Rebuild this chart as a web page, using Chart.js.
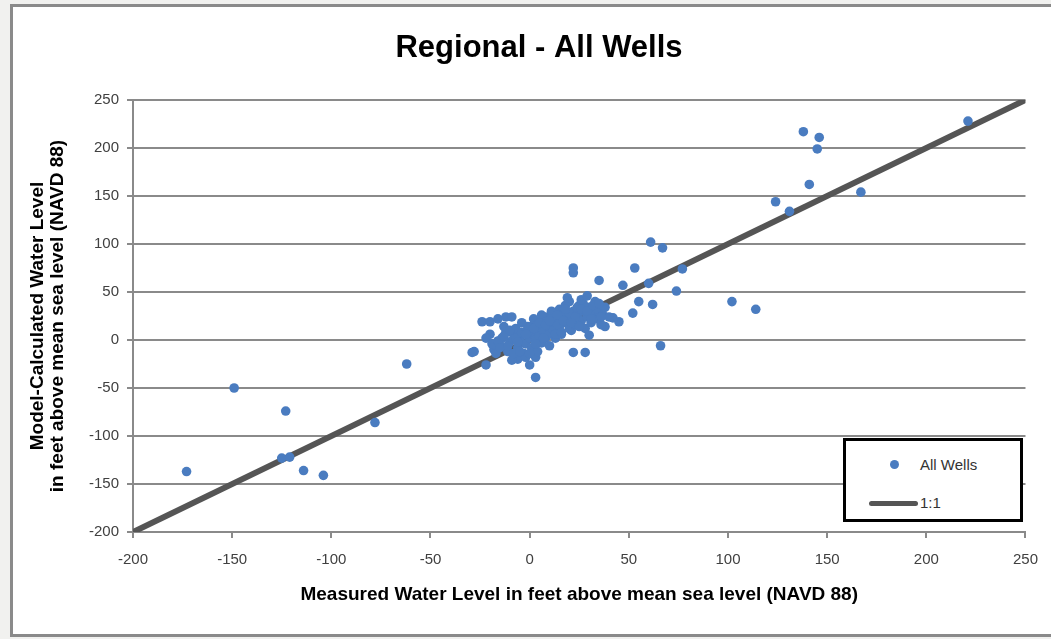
<!DOCTYPE html>
<html>
<head>
<meta charset="utf-8">
<script src="https://cdn.jsdelivr.net/npm/chart.js@4"></script>
<style>
    html, body { margin: 0; padding: 0; background: #f1f1ef; overflow: hidden; }
    #frame {
        position: absolute; left: 10px; top: 4px; width: 1080px; height: 627px;
        border: 3px solid #8a8a8a; background: #fff;
    }
    #wrap { position: absolute; left: 0; top: 0; width: 1051px; height: 639px; }
    #legend {
        position: absolute; left: 843px; top: 438px; width: 174px; height: 78px;
        border: 3px solid #000; background: #fff;
        font-family: 'Liberation Sans', Arial, sans-serif; font-size: 15px; color: #333;
    }
    .row { position: absolute; left: 0; height: 20px; line-height: 20px; }
    .sym { position: absolute; }
</style>
</head>
<body>
<div id="frame"></div>
<div id="wrap"><canvas id="chart" width="1051" height="639"></canvas></div>
<div id="legend"></div>
<script>
// Nilai terukur (x) dan hasil model (y)
const measured = [
    221, 138, 146, 145, 167, 141, 124, 131, 102, 114,
    61, 67, 22, 22, 53, 35, 47, 60, 77, 74, 55, 62, 66, 22, 28, 30, 38, 45, 52, 21, 42,
    -62, -149, -123, -78, -125, -121, -173, -114, -104,
    -24, -20, -16, -12, -9, -28, -22, -29, 3, 0, 3,
    -18, -15, -14, -12, -10, -8, -7, -6, -5, -4, -3, -2, -1, 0, 1, 1, 2, 2, 3, 4, 4, 5, 5, 6, 6,
    7, 8, 8, 9, 10, 10, 11, 12, 12, 13, 14, 15, 15, 16, 17, 18, 18, 19, 20, 20, 21, 22, 23, 24,
    25, 26, 27, 28, 29, 30, 31, 32, 33, 34, 35, 36, 37, 38, 40, -3, -6, -9, -2, -17, -11, -13,
    -20, -22, -19, -8, 2, 6, 9, 14, 17, 24, 27, 32, 11, 4, -1, 19, 26, 29,
    -16, -13, -10, -7, -4, -1, 2, 5, 8, 11, 14, 17, 20, 23, 26, 29, 32, 35,
    -15, -11, -6, -2, 3, 7, 13, 16, 21, 25, 31, 36, 10, 0, -5, 18
];
const modeled = [
    228, 217, 211, 199, 154, 162, 144, 134, 40, 32,
    102, 96, 75, 70, 75, 62, 57, 59, 74, 51, 40, 37, -6, -13, -13, 5, 14, 19, 28, 10, 23,
    -25, -50, -74, -86, -123, -122, -137, -136, -141,
    19, 19, 22, 24, 24, -12, -26, -13, -39, -26, -18,
    -10, -5, 2, 8, -2, 5, 12, -8, 0, 18, 6, -4, 10, 2, 14, -8, 6, 22, 0, 10, -12, 16, 4, -3, 20,
    10, 2, 24, 14, 6, -6, 18, 28, 10, 2, 22, 14, 32, 6, 24, 18, 36, 28, 12, 40, 22, 30, 16, 26,
    36, 20, 30, 12, 24, 34, 18, 28, 40, 22, 30, 16, 26, 34, 24, -14, -20, -21, -18, -14, -12, 14,
    6, 2, -4, -14, 12, 26, 20, 16, 30, 34, 38, 22, 30, 16, 8, 44, 42, 46,
    -1, 4, 10, 2, 8, 14, 12, 18, 16, 22, 26, 20, 28, 24, 32, 30, 36, 38,
    -8, -6, -2, 6, -4, 2, 6, 8, 18, 14, 22, 24, 20, -14, -12, 32
];
const oneToOne = [-200, 250];
const tickStep = 50;
const wells = measured.map((x, i) => ({ x: x, y: modeled[i] }));

const font = "'Liberation Sans', Arial, sans-serif";

const ctx = document.getElementById('chart').getContext('2d');
const chart = new Chart(ctx, {
    type: 'scatter',
    data: {
        datasets: [{
            label: 'All Wells',
            data: wells,
            backgroundColor: '#4a7cc0',
            borderColor: '#4a7cc0',
            borderWidth: 0,
            pointRadius: 4.8
        }, {
            label: '1:1',
            type: 'line',
            data: oneToOne.map(v => ({ x: v, y: v })),
            borderColor: '#555555',
            borderWidth: 6,
            pointRadius: 0,
            fill: false
        }]
    },
    options: {
        responsive: false,
        animation: false,
        layout: { padding: { left: 51, right: 24, top: 0, bottom: 30 } },
        plugins: {
            legend: { display: false },
            tooltip: { enabled: false },
            title: {
                display: true,
                text: 'Regional - All Wells',
                color: '#000',
                font: { family: font, size: 31, weight: 'bold' },
                padding: { top: 30, bottom: 32.8 }
            }
        },
        scales: {
            x: {
                type: 'linear',
                min: -200, max: 250,
                afterFit: s => { s.height = 77; },
                ticks: { stepSize: tickStep, color: '#404040', font: { family: font, size: 15 }, padding: 13 },
                grid: { drawOnChartArea: false, color: '#8a8a8a', lineWidth: 2, tickLength: 6 },
                border: { color: '#8a8a8a', width: 2 },
                title: {
                    display: true,
                    text: 'Measured Water Level in feet above mean sea level (NAVD 88)',
                    color: '#000',
                    font: { family: font, size: 19, weight: 'bold' },
                    padding: { top: 4, bottom: 3 }
                }
            },
            y: {
                min: -200, max: 250,
                afterFit: s => { s.width = 82; },
                ticks: { stepSize: tickStep, color: '#404040', font: { family: font, size: 15 }, padding: 8 },
                grid: { color: '#8a8a8a', lineWidth: 2, tickLength: 6 },
                border: { color: '#8a8a8a', width: 2 },
                title: {
                    display: true,
                    text: ['Model-Calculated Water Level', 'in feet above mean sea level (NAVD 88)'],
                    color: '#000',
                    font: { family: font, size: 19, weight: 'bold', lineHeight: 1.05 },
                    padding: { top: -23, bottom: 0 }
                }
            }
        }
    }
});

// Legenda HTML di dalam area grafik
const legendDiv = document.getElementById('legend');
legendDiv.innerHTML = chart.data.datasets.map((d, i) => {
    const sym = d.type === 'line'
        ? `<span class="sym" style="left:23px;top:8px;width:49px;height:5px;border-radius:3px;background:${d.borderColor}"></span>`
        : `<span class="sym" style="left:44px;top:5px;width:9px;height:9px;border-radius:50%;background:${d.backgroundColor}"></span>`;
    return `<div class="row" style="top:${i === 0 ? 14 : 52}px;width:100%">${sym}<span style="position:absolute;left:74px">${d.label}</span></div>`;
}).join('');
</script>
</body>
</html>
